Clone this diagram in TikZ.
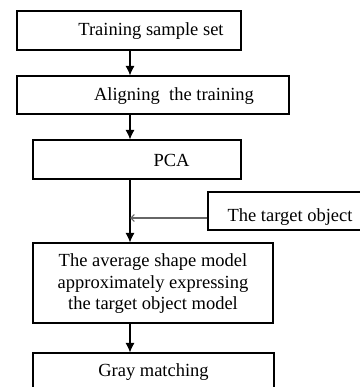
\documentclass[tikz,border=0pt]{standalone}
\usepackage{fontspec}
\setmainfont{Liberation Serif}
\usetikzlibrary{arrows.meta}
\begin{document}
\begin{tikzpicture}[x=1pt,y=1pt,
  box/.style={draw=black, line width=1.1pt, rectangle, inner sep=0pt},
  lbl/.style={font=\fontsize{18.5}{21.5}\selectfont, text=black, inner sep=0pt},
  flow/.style={draw=black, line width=1.1pt, -{Latex[length=9.5pt,width=9pt]}},
  side/.style={draw=black!60, line width=1.1pt, -{Straight Barb[length=3.5pt,width=7pt]}}]
\useasboundingbox (0,0) rectangle (359,-387);
\coordinate (spine) at (130,0);
\node[box, minimum width=224pt, minimum height=39pt,
  label={[lbl, xshift=22pt, yshift=-0.5pt]center:Training sample set}] (b1) at (129,-30.5) {};
\node[box, minimum width=272pt, minimum height=38pt,
  label={[lbl, xshift=21pt, yshift=-1pt]center:Aligning\ \ the training}] (b2) at (153,-95) {};
\node[box, minimum width=208pt, minimum height=39pt,
  label={[lbl, xshift=34.5pt, yshift=-1pt]center:PCA}] (b3) at (137,-159.5) {};
\node[box, minimum width=158pt, minimum height=38pt,
  label={[lbl, xshift=3pt, yshift=-6pt]center:The target object}] (tg) at (287,-211) {};
\node[box, minimum width=240pt, minimum height=80pt] (b4) at (153,-283) {};
\node[lbl, align=center] (t4) at (153,-284) {The average shape model\\approximately expressing\\the target object model};
\node[box, minimum width=241pt, minimum height=39pt,
  label={[lbl, yshift=0pt]center:Gray matching}] (b5) at (153.5,-372.5) {};
\coordinate (tin) at (tg.west |- 0,-218);
\coordinate (join) at (spine |- 0,-218);
\draw[flow] (b1.south -| spine) -- (b2.north -| spine);
\draw[flow] (b2.south -| spine) -- (b3.north -| spine);
\draw[flow] (b3.south -| spine) -- (b4.north -| spine);
\draw[flow] (b4.south -| spine) -- (b5.north -| spine);
\draw[side] (tin) -- (join);
\end{tikzpicture}
\end{document}
